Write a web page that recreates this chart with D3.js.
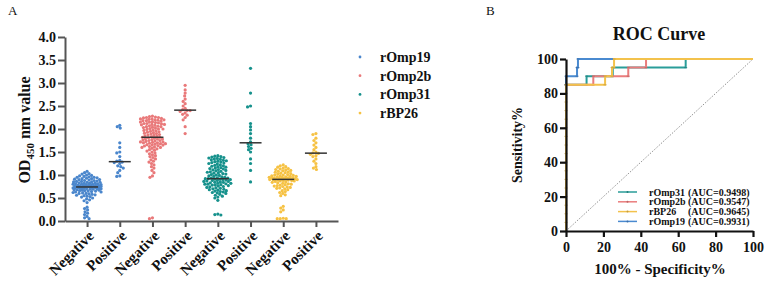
<!DOCTYPE html>
<html>
<head>
<meta charset="utf-8">
<script src="https://cdn.jsdelivr.net/npm/d3@7"></script>
<style>
body { margin: 0; background: #fff; }
text { font-family: "Liberation Serif", "Times New Roman", serif; font-weight: bold; fill: #111; }
</style>
</head>
<body>
<div id="chart"></div>
<script>
// antigens and their colours
var antigens = ["rOmp19", "rOmp2b", "rOmp31", "rBP26"];
var colors = ["#4a86cc", "#e9797a", "#16918c", "#f6c244"];
var categories = ["Negative", "Positive"];
var yTicksA = [0, 0.5, 1, 1.5, 2, 2.5, 3, 3.5, 4];

// OD450 values
var omp19Neg = [1.08, 1.05, 1.03, 1.02, 1.00, 0.99, 0.98, 0.97, 0.96, 0.95, 0.95, 0.94, 0.93, 0.92, 0.92, 0.91, 0.90, 0.90, 0.89, 0.88,
    0.88, 0.87, 0.86, 0.86, 0.85, 0.85, 0.84, 0.84, 0.83, 0.83, 0.82, 0.82, 0.81, 0.81, 0.80, 0.80, 0.80, 0.79, 0.79, 0.78,
    0.78, 0.78, 0.77, 0.77, 0.77, 0.76, 0.76, 0.76, 0.75, 0.75, 0.75, 0.75, 0.74, 0.74, 0.74, 0.73, 0.73, 0.73, 0.72, 0.72,
    0.72, 0.71, 0.71, 0.70, 0.70, 0.70, 0.69, 0.69, 0.68, 0.68, 0.67, 0.67, 0.66, 0.66, 0.65, 0.65, 0.64, 0.63, 0.63, 0.62,
    0.61, 0.60, 0.60, 0.59, 0.58, 0.57, 0.56, 0.55, 0.54, 0.53, 0.52, 0.50, 0.48, 0.46, 0.44, 0.40, 0.30, 0.27, 0.24, 0.20,
    0.17, 0.14, 0.10, 0.07, 0.05];
var omp19Pos = [2.08, 2.05, 2.02, 1.70, 1.60, 1.50, 1.48, 1.40, 1.32, 1.30, 1.28, 1.27, 1.25, 1.20, 1.18, 1.15, 1.10, 1.05, 0.98, 0.97];
var omp2bNeg = [2.28, 2.27, 2.26, 2.25, 2.25, 2.24, 2.23, 2.22, 2.22, 2.21, 2.20, 2.20, 2.19, 2.18, 2.18, 2.17, 2.16, 2.15, 2.15, 2.14,
    2.13, 2.12, 2.12, 2.11, 2.10, 2.10, 2.09, 2.08, 2.07, 2.06, 2.05, 2.05, 2.04, 2.03, 2.02, 2.01, 2.00, 2.00, 1.99, 1.98,
    1.97, 1.96, 1.95, 1.94, 1.93, 1.92, 1.91, 1.90, 1.89, 1.88, 1.87, 1.86, 1.85, 1.84, 1.83, 1.82, 1.82, 1.81, 1.80, 1.79,
    1.78, 1.78, 1.77, 1.76, 1.75, 1.75, 1.74, 1.73, 1.72, 1.72, 1.71, 1.70, 1.70, 1.69, 1.68, 1.68, 1.67, 1.66, 1.65, 1.65,
    1.64, 1.63, 1.62, 1.61, 1.60, 1.60, 1.58, 1.57, 1.55, 1.54, 1.52, 1.50, 1.48, 1.46, 1.44, 1.42, 1.40, 1.38, 1.35, 1.33,
    1.30, 1.28, 1.25, 1.22, 1.18, 1.15, 1.10, 1.05, 0.98, 0.95, 0.07, 0.05];
var omp2bPos = [2.95, 2.85, 2.78, 2.72, 2.65, 2.60, 2.55, 2.50, 2.45, 2.42, 2.40, 2.40, 2.38, 2.35, 2.32, 2.30, 2.25, 2.20, 2.05, 1.90];
var omp31Neg = [1.42, 1.41, 1.40, 1.39, 1.38, 1.37, 1.36, 1.35, 1.34, 1.33, 1.32, 1.31, 1.30, 1.29, 1.28, 1.27, 1.26, 1.25, 1.24, 1.22,
    1.21, 1.20, 1.19, 1.18, 1.17, 1.16, 1.15, 1.14, 1.13, 1.12, 1.11, 1.10, 1.09, 1.08, 1.07, 1.06, 1.05, 1.04, 1.03, 1.02,
    1.01, 1.00, 0.99, 0.98, 0.97, 0.96, 0.95, 0.94, 0.93, 0.93, 0.92, 0.92, 0.91, 0.91, 0.90, 0.90, 0.89, 0.88, 0.88, 0.87,
    0.86, 0.86, 0.85, 0.84, 0.84, 0.83, 0.82, 0.82, 0.81, 0.80, 0.80, 0.79, 0.78, 0.78, 0.77, 0.76, 0.75, 0.74, 0.73, 0.72,
    0.71, 0.70, 0.69, 0.68, 0.67, 0.66, 0.65, 0.64, 0.63, 0.62, 0.61, 0.60, 0.58, 0.56, 0.54, 0.52, 0.50, 0.45, 0.15, 0.14, 0.13];
var omp31Pos = [3.32, 2.78, 2.50, 2.48, 2.12, 2.05, 1.98, 1.90, 1.80, 1.72, 1.68, 1.66, 1.62, 1.58, 1.55, 1.50, 1.35, 1.25, 1.10, 0.85];
var bp26Neg = [1.22, 1.20, 1.18, 1.17, 1.15, 1.14, 1.13, 1.12, 1.11, 1.10, 1.09, 1.08, 1.07, 1.06, 1.05, 1.04, 1.03, 1.02, 1.01, 1.00,
    1.00, 0.99, 0.98, 0.98, 0.97, 0.97, 0.96, 0.96, 0.95, 0.95, 0.94, 0.94, 0.93, 0.93, 0.93, 0.92, 0.92, 0.92, 0.91, 0.91,
    0.91, 0.90, 0.90, 0.90, 0.89, 0.89, 0.88, 0.88, 0.87, 0.87, 0.86, 0.85, 0.84, 0.83, 0.82, 0.81, 0.80, 0.79, 0.78, 0.77,
    0.76, 0.75, 0.74, 0.73, 0.72, 0.71, 0.70, 0.68, 0.66, 0.64, 0.62, 0.60, 0.57, 0.55, 0.32, 0.28, 0.24, 0.20, 0.06, 0.05,
    0.05, 0.05];
var bp26Pos = [1.90, 1.88, 1.80, 1.75, 1.70, 1.65, 1.60, 1.55, 1.50, 1.48, 1.47, 1.45, 1.42, 1.40, 1.35, 1.30, 1.25, 1.18, 1.15, 1.12];

// ROC curves: [100% - specificity, sensitivity]
var roc31 = [[0, 0], [0, 85], [11, 85], [11, 90], [25, 90], [25, 95], [64, 95], [64, 100], [100, 100]];
var roc2b = [[0, 0], [0, 85], [14.6, 85], [14.6, 90], [33.3, 90], [33.3, 95], [42.8, 95], [42.8, 100], [100, 100]];
var roc19 = [[0, 0], [0, 85], [0, 90], [5.9, 90], [5.9, 95], [6.4, 95], [6.4, 100], [100, 100]];
var roc26 = [[0, 0], [0, 5], [0, 10], [0, 15], [0, 20], [0, 25], [0, 30], [0, 35], [0, 40], [0, 45], [0, 50], [0, 55], [0, 60],
    [0, 65], [0, 70], [0, 75], [0, 80], [0, 85], [20.9, 85], [20.9, 90], [24.6, 90], [24.6, 95], [25.7, 95], [25.7, 100], [100, 100]];
var rocNames = ["rOmp31", "rOmp2b", "rBP26", "rOmp19"];
var rocAuc = ["(AUC=0.9498)", "(AUC=0.9547)", "(AUC=0.9645)", "(AUC=0.9931)"];
var rocColors = ["#2a9d99", "#ea7d7d", "#f3c24c", "#4a8ad0"];
var rocTicks = [0, 20, 40, 60, 80, 100];

var groups = [
    {key: "rOmp19 Negative", cat: "Negative", c: 0, values: omp19Neg},
    {key: "rOmp19 Positive", cat: "Positive", c: 0, values: omp19Pos},
    {key: "rOmp2b Negative", cat: "Negative", c: 1, values: omp2bNeg},
    {key: "rOmp2b Positive", cat: "Positive", c: 1, values: omp2bPos},
    {key: "rOmp31 Negative", cat: "Negative", c: 2, values: omp31Neg},
    {key: "rOmp31 Positive", cat: "Positive", c: 2, values: omp31Pos},
    {key: "rBP26 Negative", cat: "Negative", c: 3, values: bp26Neg},
    {key: "rBP26 Positive", cat: "Positive", c: 3, values: bp26Pos}
];

var svg = d3.select("#chart").append("svg")
    .attr("width", 767)
    .attr("height", 283)
    .style("background", "#fff");

// ---------- panel A ----------
var yA = d3.scaleLinear().domain([0, 4]).range([221, 37]);
var xA = d3.scalePoint().domain(groups.map(function(d) { return d.key; })).range([65, 338]).padding(0.675);

svg.append("text").attr("x", 8).attr("y", 15).style("font-weight", "normal").style("font-size", "13px").text("A");

var gy = svg.append("g").attr("transform", "translate(65,0)")
    .call(d3.axisLeft(yA).tickValues(yTicksA).tickFormat(d3.format(".1f")).tickSize(7).tickSizeOuter(0));
gy.selectAll("path, line").attr("stroke", "#555").attr("stroke-width", 2);
gy.selectAll("text").attr("x", -9).attr("dy", "0.35em").style("font-size", "14px")
    .style("font-family", "Liberation Serif").style("font-weight", "bold").attr("fill", "#111");

var gx = svg.append("g").attr("transform", "translate(0,221)")
    .call(d3.axisBottom(xA).tickSize(6).tickSizeOuter(0).tickFormat(function(k) {
        return groups.find(function(g) { return g.key === k; }).cat;
    }));
gx.selectAll("path, line").attr("stroke", "#555").attr("stroke-width", 2);
gx.selectAll("text")
    .attr("text-anchor", "end")
    .attr("transform", "rotate(-45)")
    .attr("x", -6).attr("y", 11).attr("dy", "0.35em")
    .style("font-size", "15px").style("font-family", "Liberation Serif").style("font-weight", "bold").attr("fill", "#111");

var yTitle = svg.append("text")
    .attr("transform", "translate(30,130) rotate(-90)")
    .attr("text-anchor", "middle")
    .style("font-size", "16px");
yTitle.append("tspan").text("OD");
yTitle.append("tspan").attr("dy", 4).style("font-size", "11px").text("450");
yTitle.append("tspan").attr("dy", -4).text(" nm value");

// simple beeswarm: spread points sideways until they don't overlap
function swarm(vals, cx, minDist, maxHalf) {
    var pts = vals.map(function(v) { return {v: v, y: yA(v)}; })
        .sort(function(a, b) { return a.y - b.y; });
    var placed = [];
    pts.forEach(function(p) {
        var bestX = cx, bestD = -1;
        for (var k = 0; k < 400; k++) {
            var off = (k % 2 ? -1 : 1) * Math.ceil(k / 2) * 0.5;
            if (Math.abs(off) > maxHalf) break;
            var x = cx + off, dmin = Infinity;
            placed.forEach(function(q) {
                var d = Math.hypot(q.x - x, q.y - p.y);
                if (d < dmin) dmin = d;
            });
            if (dmin >= minDist) { bestX = x; bestD = dmin; break; }
            if (dmin > bestD) { bestD = dmin; bestX = x; }
        }
        p.x = bestX;
        placed.push(p);
    });
    return placed;
}

groups.forEach(function(g) {
    var cx = xA(g.key);
    var pts = swarm(g.values, cx, 2.8, 14);
    svg.append("g").selectAll("circle").data(pts).enter().append("circle")
        .attr("cx", function(d) { return d.x; })
        .attr("cy", function(d) { return d.y; })
        .attr("r", 1.6)
        .attr("fill", colors[g.c]);
    var med = d3.median(g.values);
    svg.append("line")
        .attr("x1", cx - 11).attr("x2", cx + 11)
        .attr("y1", yA(med)).attr("y2", yA(med))
        .attr("stroke", "#333").attr("stroke-width", 1.5);
});

// legend A
var legA = svg.append("g").selectAll("g").data(antigens).enter().append("g")
    .attr("transform", function(d, i) { return "translate(360," + (57 + i * 18.7) + ")"; });
legA.append("circle").attr("r", 1.4).attr("fill", function(d, i) { return colors[i]; });
legA.append("text").attr("x", 20).attr("dy", "0.35em").style("font-size", "14px").text(function(d) { return d; });

// ---------- panel B: ROC ----------
var xB = d3.scaleLinear().domain([0, 100]).range([566, 753]);
var yB = d3.scaleLinear().domain([0, 100]).range([231, 59]);

svg.append("text").attr("x", 486).attr("y", 15).style("font-weight", "normal").style("font-size", "13px").text("B");
svg.append("text").attr("x", 659).attr("y", 40).attr("text-anchor", "middle").style("font-size", "18px").text("ROC Curve");

// chance line
svg.append("line")
    .attr("x1", xB(0)).attr("y1", yB(0)).attr("x2", xB(100)).attr("y2", yB(100))
    .attr("stroke", "#777").attr("stroke-width", 0.8).attr("stroke-dasharray", "1.5,1.5");

var line = d3.line().x(function(d) { return xB(d[0]); }).y(function(d) { return yB(d[1]); });
var curves = [
    {data: roc31, color: rocColors[0]},
    {data: roc2b, color: rocColors[1]},
    {data: roc19, color: rocColors[3]},
    {data: roc26, color: rocColors[2]}
];
curves.forEach(function(c) {
    svg.append("path").attr("d", line(c.data)).attr("fill", "none")
        .attr("stroke", c.color).attr("stroke-width", 2);
    svg.append("g").selectAll("line").data(c.data.slice(1, -1)).enter().append("line")
        .attr("x1", function(d) { return xB(d[0]) - 1.5; })
        .attr("x2", function(d) { return xB(d[0]) + 1.5; })
        .attr("y1", function(d) { return yB(d[1]); })
        .attr("y2", function(d) { return yB(d[1]); })
        .attr("stroke", d3.color(c.color).darker(0.6)).attr("stroke-width", 0.8);
});

var gyB = svg.append("g").attr("transform", "translate(566,0)")
    .call(d3.axisLeft(yB).tickValues(rocTicks).tickSize(6).tickSizeOuter(0));
var gxB = svg.append("g").attr("transform", "translate(0,231)")
    .call(d3.axisBottom(xB).tickValues(rocTicks).tickSize(6).tickSizeOuter(0));
[gyB, gxB].forEach(function(g) {
    g.selectAll("path, line").attr("stroke", "#111").attr("stroke-width", 2.2);
    g.selectAll("text").style("font-size", "14px").style("font-family", "Liberation Serif")
        .style("font-weight", "bold").attr("fill", "#111");
});
gyB.selectAll("text").attr("x", -8);
gxB.selectAll("text").attr("y", 11);

svg.append("text").attr("transform", "translate(522,145) rotate(-90)").attr("text-anchor", "middle")
    .style("font-size", "14px").text("Sensitivity%");
svg.append("text").attr("x", 660).attr("y", 274).attr("text-anchor", "middle")
    .style("font-size", "15px").text("100% - Specificity%");

// ROC legend
var legB = svg.append("g").selectAll("g").data(rocNames).enter().append("g")
    .attr("transform", function(d, i) { return "translate(618," + (192 + i * 9.8) + ")"; });
legB.append("line").attr("x1", 0).attr("x2", 19)
    .attr("stroke", function(d, i) { return rocColors[i]; }).attr("stroke-width", 1.5);
legB.append("circle").attr("cx", 9.5).attr("r", 1).attr("fill", function(d, i) { return d3.color(rocColors[i]).darker(0.6); });
legB.append("text").attr("x", 31).attr("dy", "0.35em").style("font-size", "10px").text(function(d) { return d; });
legB.append("text").attr("x", 70).attr("dy", "0.35em").style("font-size", "10px").text(function(d, i) { return rocAuc[i]; });
</script>
</body>
</html>
